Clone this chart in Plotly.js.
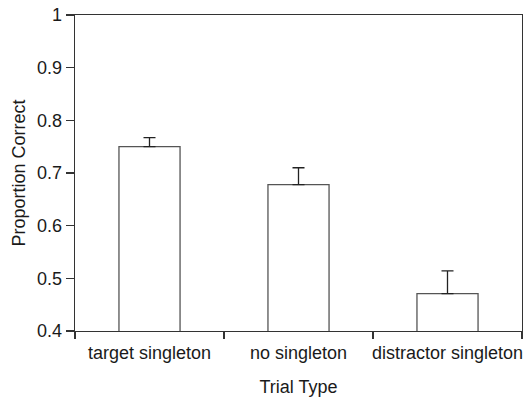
<!DOCTYPE html>
<html>
<head>
<meta charset="utf-8">
<script src="https://cdn.plot.ly/plotly-3.0.1.min.js"></script>
<style>html,body{margin:0;padding:0;background:#fff;}#chart{width:529px;height:397px;}</style>
</head>
<body>
<div id="chart"></div>
<script>
var categories = ["target singleton", "no singleton", "distractor singleton"];
var proportionCorrect = [0.750, 0.678, 0.471];
var errorUpper = [0.017, 0.032, 0.043];
var yTickVals = [0.4, 0.5, 0.6, 0.7, 0.8, 0.9, 1];
var yTickText = ["0.4", "0.5", "0.6", "0.7", "0.8", "0.9", "1"];

var trace = {
  type: "bar",
  x: categories,
  y: proportionCorrect,
  base: 0,
  width: 0.41,
  marker: {color: "#ffffff", line: {color: "#555555", width: 1.3}},
  error_y: {type: "data", array: errorUpper, symmetric: false, arrayminus: [0,0,0], color: "#222222", thickness: 1.3, width: 6},
  hoverinfo: "none"
};

var layout = {
  width: 529, height: 397,
  margin: {l: 75, r: 7, t: 15, b: 66},
  paper_bgcolor: "#ffffff", plot_bgcolor: "#ffffff",
  showlegend: false,
  font: {family: "Liberation Sans, Arial, sans-serif", size: 18, color: "#1a1a1a"},
  xaxis: {
    type: "category",
    range: [-0.5, 2.5],
    showline: true, linecolor: "#333333", linewidth: 1.3,
    mirror: true,
    ticks: "outside", tickson: "boundaries", ticklen: 7, tickcolor: "#333333", tickwidth: 1.3,
    tickangle: 0,
    ticklabelstandoff: 5,
    showgrid: false, zeroline: false,
    tickfont: {size: 18},
    title: {text: "Trial Type", font: {size: 18}, standoff: 21}
  },
  yaxis: {
    range: [0.4, 1],
    tickvals: yTickVals, ticktext: yTickText,
    showline: true, linecolor: "#333333", linewidth: 1.3,
    mirror: true,
    ticks: "outside", ticklen: 8, tickcolor: "#333333", tickwidth: 1.3,
    showgrid: false, zeroline: false,
    tickfont: {size: 18},
    title: {text: "Proportion Correct", font: {size: 18}, standoff: 6}
  }
};

Plotly.newPlot("chart", [trace], layout, {staticPlot: true, displayModeBar: false});
</script>
</body>
</html>
